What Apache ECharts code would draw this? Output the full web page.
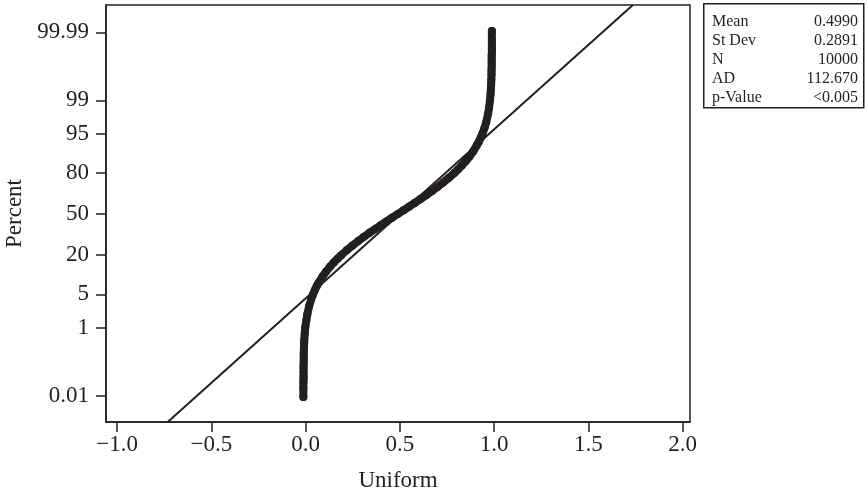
<!DOCTYPE html>
<html>
<head>
<meta charset="utf-8">
<script src="https://cdn.jsdelivr.net/npm/echarts@6/dist/echarts.min.js"></script>
<style>
  html, body { margin: 0; padding: 0; background: #fff; }
  #chart { width: 867px; height: 494px; }
</style>
</head>
<body>
<div id="chart"></div>
<script>
// Sorted sample values (Uniform) and their cumulative percent positions
const percentValues = [
  0.009, 0.018, 0.027, 0.036, 0.045, 0.06, 0.08, 0.1, 0.13, 0.17, 0.22, 0.3, 0.4, 0.5, 0.7,
  1, 1.5, 2, 3, 4, 5, 6, 7, 8,
  10, 12, 14, 16, 18, 20,
  23, 26, 29, 32, 35, 38, 41, 44, 47, 50, 53, 56, 59, 62, 65, 68, 71, 74, 77, 80,
  82, 84, 86, 88, 90, 92,
  93, 94, 95, 96, 97, 98,
  98.5, 99, 99.3, 99.5, 99.6, 99.7, 99.78, 99.83, 99.87, 99.9, 99.92, 99.94, 99.955, 99.964, 99.973, 99.982, 99.991
];
const uniformValues = [
  -0.012, -0.012, -0.012, -0.011, -0.011, -0.011, -0.011, -0.011, -0.010, -0.010, -0.010, -0.009, -0.008, -0.007, -0.005,
  -0.002, 0.004, 0.009, 0.019, 0.029, 0.039, 0.049, 0.059, 0.069,
  0.089, 0.109, 0.129, 0.149, 0.169, 0.189,
  0.219, 0.249, 0.279, 0.309, 0.339, 0.369, 0.399, 0.429, 0.459, 0.489, 0.519, 0.549, 0.579, 0.609, 0.639, 0.669, 0.699, 0.729, 0.759, 0.789,
  0.809, 0.829, 0.849, 0.869, 0.889, 0.908,
  0.918, 0.928, 0.938, 0.948, 0.958, 0.968,
  0.973, 0.978, 0.981, 0.983, 0.984, 0.985, 0.986, 0.986, 0.987, 0.987, 0.987, 0.987, 0.988, 0.988, 0.988, 0.988, 0.988
];

// Axis ticks
const percentTicks = [0.01, 1, 5, 20, 50, 80, 95, 99, 99.99];
const percentTickLabels = ['0.01', '1', '5', '20', '50', '80', '95', '99', '99.99'];
const uniformTicks = [-1.0, -0.5, 0.0, 0.5, 1.0, 1.5, 2.0];

// Summary statistics
const statNames = ['Mean', 'St Dev', 'N', 'AD', 'p-Value'];
const statValues = ['0.4990', '0.2891', '10000', '112.670', '<0.005'];
const fitMean = 0.4990;
const fitStDev = 0.2891;

// Inverse standard normal CDF (Acklam) – maps percent to the probability-scale coordinate
function probit(p) {
  const a = [-3.969683028665376e+01, 2.209460984245205e+02, -2.759285104469687e+02, 1.383577518672690e+02, -3.066479806614716e+01, 2.506628277459239e+00];
  const b = [-5.447609879822406e+01, 1.615858368580409e+02, -1.556989798598866e+02, 6.680131188771972e+01, -1.328068155288572e+01];
  const c = [-7.784894002430293e-03, -3.223964580411365e-01, -2.400758277161838e+00, -2.549732539343734e+00, 4.374664141464968e+00, 2.938163982698783e+00];
  const d = [7.784695709041462e-03, 3.224671290700398e-01, 2.445134137142996e+00, 3.754408661907416e+00];
  const pl = 0.02425, ph = 1 - pl;
  let q, r;
  if (p < pl) {
    q = Math.sqrt(-2 * Math.log(p));
    return (((((c[0]*q+c[1])*q+c[2])*q+c[3])*q+c[4])*q+c[5]) / ((((d[0]*q+d[1])*q+d[2])*q+d[3])*q+1);
  }
  if (p > ph) {
    q = Math.sqrt(-2 * Math.log(1 - p));
    return -(((((c[0]*q+c[1])*q+c[2])*q+c[3])*q+c[4])*q+c[5]) / ((((d[0]*q+d[1])*q+d[2])*q+d[3])*q+1);
  }
  q = p - 0.5; r = q * q;
  return (((((a[0]*r+a[1])*r+a[2])*r+a[3])*r+a[4])*r+a[5])*q / (((((b[0]*r+b[1])*r+b[2])*r+b[3])*r+b[4])*r+1);
}
const toZ = pct => probit(pct / 100);

const Y_MIN = -4.257, Y_MAX = 4.278;
const X_MIN = -1.059, X_MAX = 2.039;
const INK = '#231f20';
const FONT = '"Liberation Serif", "Times New Roman", serif';

const points = uniformValues.map((x, i) => [x, toZ(percentValues[i])]);
const fitLine = [[fitMean + fitStDev * Y_MIN, Y_MIN], [fitMean + fitStDev * Y_MAX, Y_MAX]];

const yTickZ = percentTicks.map(toZ);
function percentLabel(v) {
  let best = 0;
  yTickZ.forEach((z, i) => { if (Math.abs(z - v) < Math.abs(yTickZ[best] - v)) best = i; });
  return percentTickLabels[best];
}

const chart = echarts.init(document.getElementById('chart'), null, { renderer: 'canvas' });
chart.setOption({
  animation: false,
  backgroundColor: '#ffffff',
  grid: {
    left: 106, right: 177, top: 5, bottom: 72,
    containLabel: false, outerBoundsMode: 'none',
    show: true, borderColor: INK, borderWidth: 1.5, backgroundColor: 'transparent'
  },
  xAxis: {
    type: 'value', min: X_MIN, max: X_MAX,
    name: 'Uniform', nameLocation: 'middle', nameGap: 47,
    nameTextStyle: { fontFamily: FONT, fontSize: 23, color: INK },
    axisLine: { show: true, onZero: false, lineStyle: { color: INK, width: 1.5 } },
    axisTick: { show: true, inside: false, length: 10, lineStyle: { color: INK, width: 1.5 }, customValues: uniformTicks },
    axisLabel: {
      customValues: uniformTicks, margin: 11,
      fontFamily: FONT, fontSize: 23, color: INK,
      formatter: v => (v < 0 ? '\u2212' : '') + Math.abs(v).toFixed(1)
    },
    splitLine: { show: false }
  },
  yAxis: {
    type: 'value', min: Y_MIN, max: Y_MAX,
    name: 'Percent', nameLocation: 'middle', nameGap: 80, nameRotate: 90,
    nameTextStyle: { fontFamily: FONT, fontSize: 23, color: INK },
    axisLine: { show: true, onZero: false, lineStyle: { color: INK, width: 1.5 } },
    axisTick: { show: true, inside: false, length: 10, lineStyle: { color: INK, width: 1.5 }, customValues: yTickZ },
    axisLabel: {
      customValues: yTickZ, margin: 17,
      fontFamily: FONT, fontSize: 23, color: INK,
      formatter: v => percentLabel(v)
    },
    splitLine: { show: false }
  },
  series: [
    {
      type: 'line', data: fitLine, z: 1,
      symbol: 'none', silent: true,
      lineStyle: { color: INK, width: 2 }
    },
    {
      type: 'line', data: points, z: 2,
      symbol: 'circle', symbolSize: 8, showAllSymbol: true, silent: true,
      itemStyle: { color: INK, borderWidth: 0 },
      lineStyle: { color: INK, width: 8, cap: 'round', join: 'round' }
    }
  ],
  graphic: [
    {
      type: 'rect', left: 703, top: 3,
      shape: { width: 160, height: 104 },
      style: { fill: '#fff', stroke: INK, lineWidth: 1.5 }
    },
    ...statNames.map((t, i) => ({
      type: 'text', left: 712, top: 14 + i * 19,
      style: { text: t, font: '16px ' + FONT, fill: INK }
    })),
    ...statValues.map((t, i) => ({
      type: 'text', right: 867 - 858, top: 14 + i * 19,
      style: { text: t, font: '16px ' + FONT, fill: INK, textAlign: 'right' }
    }))
  ]
});
</script>
</body>
</html>
